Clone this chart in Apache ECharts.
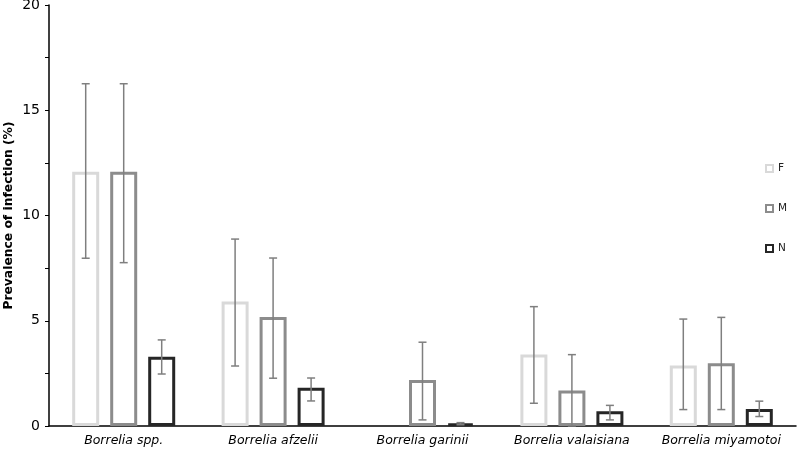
<!DOCTYPE html>
<html><head><meta charset="utf-8">
<script src="https://cdn.jsdelivr.net/npm/echarts@6/dist/echarts.min.js"></script>
<style>html,body{margin:0;padding:0;background:#fff}#c{width:797px;height:452px}</style>
</head><body><div id="c"></div>
<script>
const categories = ['Borrelia spp.', 'Borrelia afzelii', 'Borrelia garinii', 'Borrelia valaisiana', 'Borrelia miyamotoi'];
const seriesNames = ['F', 'M', 'N'];
const valuesF = [12.08, 5.91, null, 3.40, 2.88];
const valuesM = [12.08, 5.18, 2.19, 1.69, 2.98];
const valuesN = [3.29, 1.82, 0.11, 0.70, 0.81];
const lowF = [7.97, 2.85, null, 1.08, 0.78];
const highF = [16.26, 8.88, null, 5.67, 5.08];
const lowM = [7.76, 2.27, 0.29, 0.0, 0.78];
const highM = [16.26, 7.98, 3.98, 3.39, 5.16];
const lowN = [2.47, 1.19, 0.06, 0.29, 0.45];
const highN = [4.09, 2.28, 0.16, 0.98, 1.18];
const yTicks = [0, 5, 10, 15, 20];

const colors = ['#d9d9d9', '#8c8c8c', '#262626'];
const values = [valuesF, valuesM, valuesN];
const lows = [lowF, lowM, lowN];
const highs = [highF, highM, highN];
const BAR_W = 27, STEP = 38;

const series = [];
values.forEach((vals, i) => {
  series.push({
    name: seriesNames[i], type: 'bar', data: vals, barWidth: BAR_W, barGap: ((STEP - BAR_W) / BAR_W * 100) + '%',
    itemStyle: { color: '#fff', borderColor: colors[i], borderWidth: 3 },
    emphasis: { disabled: true }, z: 2
  });
});
values.forEach((vals, i) => {
  const data = categories.map((c, k) => lows[i][k] == null ? null : [k, lows[i][k], highs[i][k]]).filter(d => d);
  series.push({
    type: 'custom', name: 'err' + i, z: 5, silent: true,
    data: data,
    renderItem: function (params, api) {
      const k = api.value(0);
      const off = (i - 1) * STEP;
      const pl = api.coord([k, api.value(1)]);
      const ph = api.coord([k, api.value(2)]);
      const x = pl[0] + off;
      const cap = 4;
      const st = { stroke: '#7f7f7f', lineWidth: 1.5 };
      return { type: 'group', children: [
        { type: 'line', shape: { x1: x, y1: ph[1], x2: x, y2: pl[1] }, style: st },
        { type: 'line', shape: { x1: x - cap, y1: ph[1], x2: x + cap, y2: ph[1] }, style: st },
        { type: 'line', shape: { x1: x - cap, y1: pl[1], x2: x + cap, y2: pl[1] }, style: st }
      ]};
    }
  });
});

const chart = echarts.init(document.getElementById('c'), null, { renderer: 'canvas' });
chart.setOption({
  animation: false,
  textStyle: { fontFamily: 'DejaVu Sans' },
  grid: { left: 49, right: 1, top: 5, bottom: 26, containLabel: false, outerBoundsMode: 'none' },
  legend: {
    data: seriesNames, orient: 'vertical', left: 760, top: 158, itemGap: 29,
    itemWidth: 7, itemHeight: 7, icon: 'rect',
    textStyle: { color: '#222', fontSize: 10.5, fontFamily: 'DejaVu Sans' },
    itemStyle: { borderWidth: 2 }
  },
  xAxis: {
    type: 'category', data: categories,
    axisLine: { lineStyle: { color: '#000', width: 1.5 } },
    axisTick: { alignWithLabel: true, length: 4, lineStyle: { color: '#000' } },
    axisLabel: { color: '#000', fontStyle: 'italic', fontSize: 12.5, margin: 8, interval: 0, hideOverlap: false }
  },
  yAxis: {
    type: 'value', min: 0, max: 20, interval: 2.5,
    name: 'Prevalence of infection (%)', nameLocation: 'middle', nameGap: 34, nameMoveOverlap: false,
    nameTextStyle: { color: '#000', fontSize: 12.3, fontWeight: 'bold' },
    axisLine: { show: true, lineStyle: { color: '#000', width: 1.5 } },
    axisTick: { show: true, length: 4, lineStyle: { color: '#000' } },
    axisLabel: { color: '#000', fontSize: 14, margin: 9,
      formatter: v => yTicks.includes(v) ? String(v) : '' },
    splitLine: { show: false }
  },
  series: series
});
</script></body></html>
